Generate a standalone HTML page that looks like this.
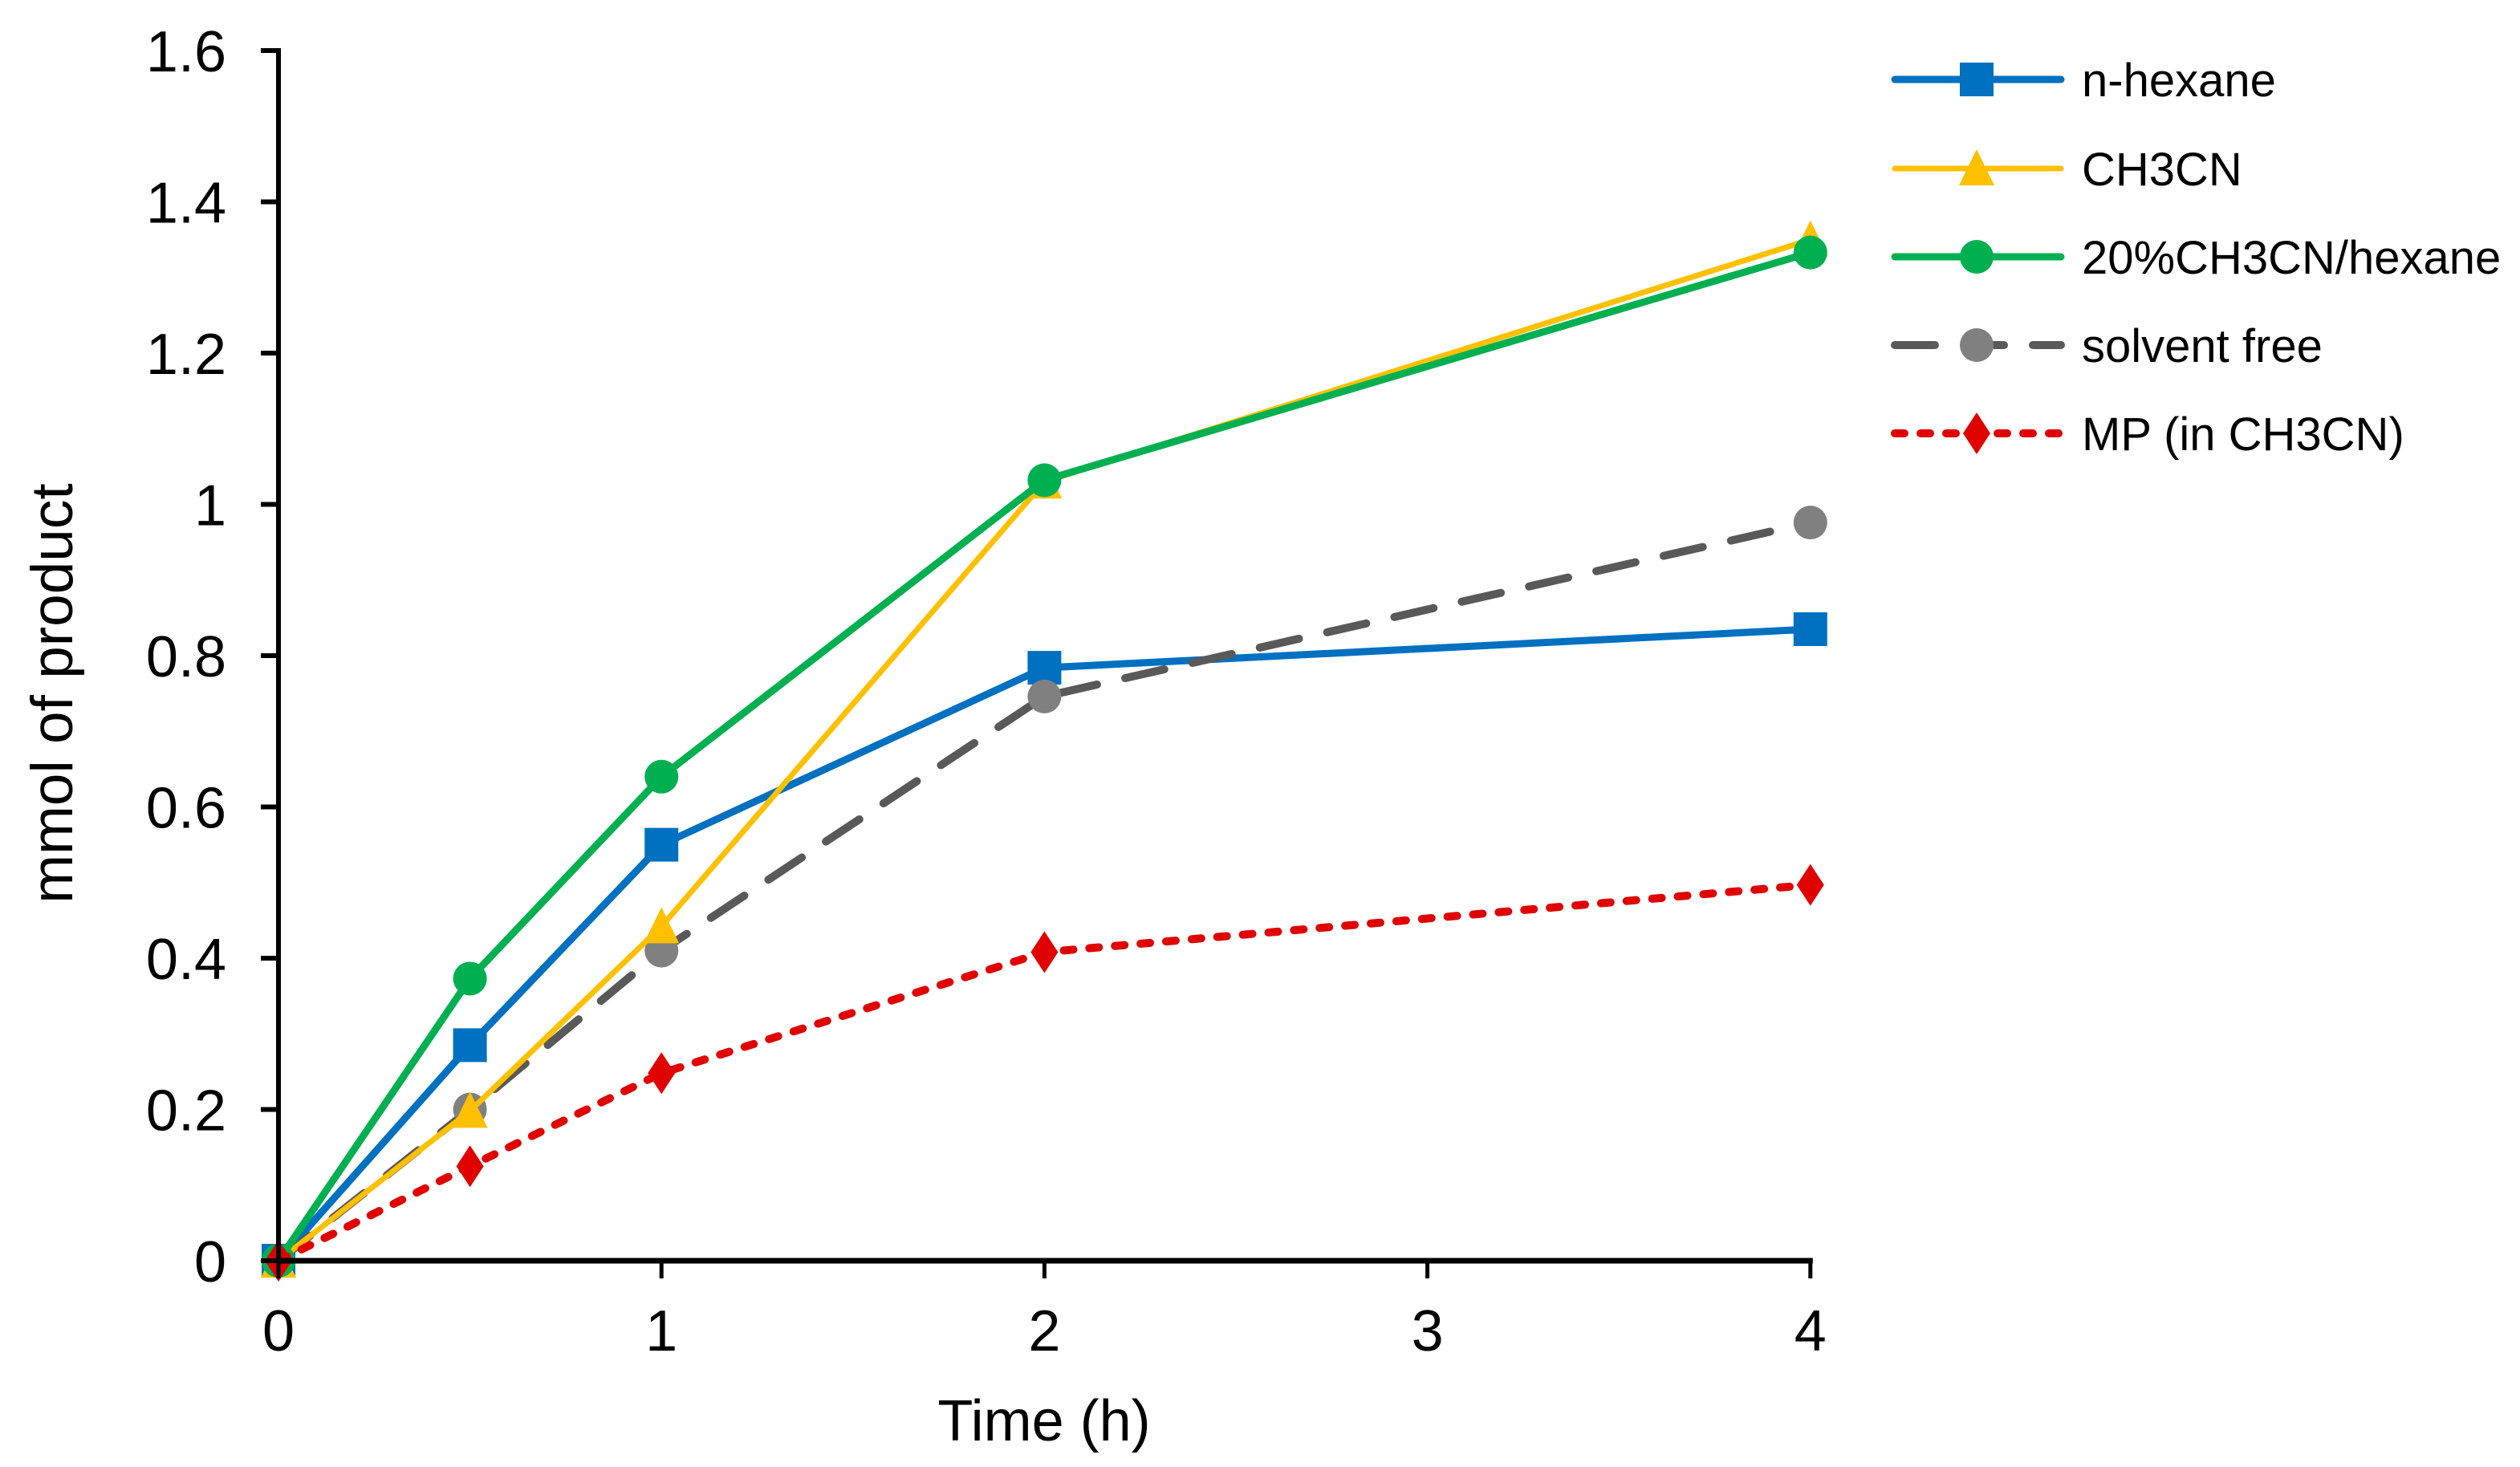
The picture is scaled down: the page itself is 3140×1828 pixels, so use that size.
<!DOCTYPE html>
<html><head><meta charset="utf-8"><style>
html,body{margin:0;padding:0;background:#fff;}
svg{display:block;font-family:"Liberation Sans",Arial,sans-serif;}
</style></head><body>
<svg id="chart" width="3140" height="1828" viewBox="0 0 3140 1828" xmlns="http://www.w3.org/2000/svg">
<g id="series-layer"></g>
<g id="axes-layer"></g>
<g id="legend"></g>
<text x="1301" y="1795" font-size="72" text-anchor="middle">Time (h)</text>
<text x="0" y="0" font-size="73" text-anchor="middle" transform="translate(90,864) rotate(-90)">mmol of product</text>
</svg>
<script>
const xValues = [0, 0.5, 1, 2, 4];
const xTicks = [0, 1, 2, 3, 4];
const yTicks = [0, 0.2, 0.4, 0.6, 0.8, 1, 1.2, 1.4, 1.6];
const yTickLabels = ["0", "0.2", "0.4", "0.6", "0.8", "1", "1.2", "1.4", "1.6"];
const seriesNames = ["n-hexane", "CH3CN", "20%CH3CN/hexane", "solvent free", "MP (in CH3CN)"];
const hexane = [0, 0.285, 0.55, 0.784, 0.835];
const ch3cn = [0, 0.198, 0.442, 1.03, 1.35];
const mix20 = [0, 0.373, 0.64, 1.032, 1.333];
const solventFree = [0, 0.2, 0.41, 0.746, 0.976];
const mp = [0, 0.125, 0.248, 0.408, 0.497];

const NS = "http://www.w3.org/2000/svg";
const X0 = 347, XPU = 477.2, Y0 = 1571, YPU = 942.5;
function sx(v){ return X0 + v * XPU; }
function sy(v){ return Y0 - v * YPU; }
function mk(tag, attrs, parent){ const e = document.createElementNS(NS, tag); for (const k in attrs) e.setAttribute(k, attrs[k]); parent.appendChild(e); return e; }

const styles = [
  {data: hexane, color: "#0070C0", mcolor: "#0070C0", w: 9, dash: null, marker: "square", slug: "n-hexane", order: 0},
  {data: ch3cn, color: "#FFC000", mcolor: "#FFC000", w: 7, dash: null, marker: "triangle", slug: "ch3cn", order: 2},
  {data: mix20, color: "#00B050", mcolor: "#00B050", w: 9, dash: null, marker: "circle", slug: "ch3cn-hexane", order: 3},
  {data: solventFree, color: "#595959", mcolor: "#808080", w: 10, dash: "50 36", marker: "circle", slug: "solvent-free", order: 1},
  {data: mp, color: "#E00000", mcolor: "#E00000", w: 10, dash: "12 20", marker: "diamond", slug: "mp", order: 4}
];

function drawMarker(type, cx, cy, color, parent, name){
  let el;
  if (type === "square") el = mk("rect", {x: cx-21, y: cy-21, width: 42, height: 42, fill: color}, parent);
  else if (type === "circle") el = mk("ellipse", {cx: cx, cy: cy, rx: 21, ry: 21, fill: color}, parent);
  else if (type === "triangle") el = mk("polygon", {points: `${cx},${cy-24} ${cx+22},${cy+21} ${cx-22},${cy+21}`, fill: color}, parent);
  else el = mk("polygon", {points: `${cx},${cy-26} ${cx+17},${cy} ${cx},${cy+26} ${cx-17},${cy}`, fill: color}, parent);
  
  
  return el;
}

const sl = document.getElementById("series-layer");
styles.slice().sort((a, b) => a.order - b.order).forEach((s) => {
  const g = mk("g", {}, sl);
  
  
  const pts = s.data.map((v, i) => sx(xValues[i]) + "," + sy(v)).join(" ");
  const line = mk("polyline", {points: pts, fill: "none", stroke: s.color, "stroke-width": s.w, "stroke-linejoin": "round", "stroke-linecap": "round"}, g);
  if (s.dash) line.setAttribute("stroke-dasharray", s.dash);
  
  
  s.data.forEach((v, i) => { drawMarker(s.marker, sx(xValues[i]), sy(v), s.mcolor, g, 'point-' + s.slug); });
});

const ax = document.getElementById("axes-layer");
const yAxis = mk("line", {x1: X0, y1: sy(1.6) - 3, x2: X0, y2: Y0, stroke: "#000", "stroke-width": 6}, ax);


const xAxis = mk("line", {x1: X0, y1: Y0, x2: sx(4) + 3, y2: Y0, stroke: "#000", "stroke-width": 7}, ax);


yTicks.forEach((v, i) => {
  const t = mk("line", {x1: X0 - 22, y1: sy(v), x2: X0, y2: sy(v), stroke: "#000", "stroke-width": 6}, ax);
  
  
  const lb = mk("text", {x: 282, y: sy(v) + 26, "font-size": 72, "text-anchor": "end", fill: "#000"}, ax);
  lb.textContent = yTickLabels[i];
  
  
});
xTicks.forEach((v) => {
  const t = mk("line", {x1: sx(v), y1: Y0, x2: sx(v), y2: Y0 + 22, stroke: "#000", "stroke-width": 5}, ax);
  
  
  const lb = mk("text", {x: sx(v), y: 1683, "font-size": 72, "text-anchor": "middle", fill: "#000"}, ax);
  lb.textContent = String(v);
  
  
});

const lg = document.getElementById("legend");
const rowY = [99, 210, 320, 430, 540];
styles.forEach((s, i) => {
  const g = mk("g", {}, lg);
  
  
  const y = rowY[i];
  const l = mk("line", {x1: 2361, y1: y, x2: 2568, y2: y, stroke: s.color, "stroke-width": s.w, "stroke-linecap": "round"}, g);
  if (s.dash) l.setAttribute("stroke-dasharray", s.dash);
  drawMarker(s.marker, 2463, y, s.mcolor, g, 'legend-marker');
  const t = mk("text", {x: 2594, y: y + 21, "font-size": 58, fill: "#000"}, g);
  t.textContent = seriesNames[i];
});
</script>
</body></html>
